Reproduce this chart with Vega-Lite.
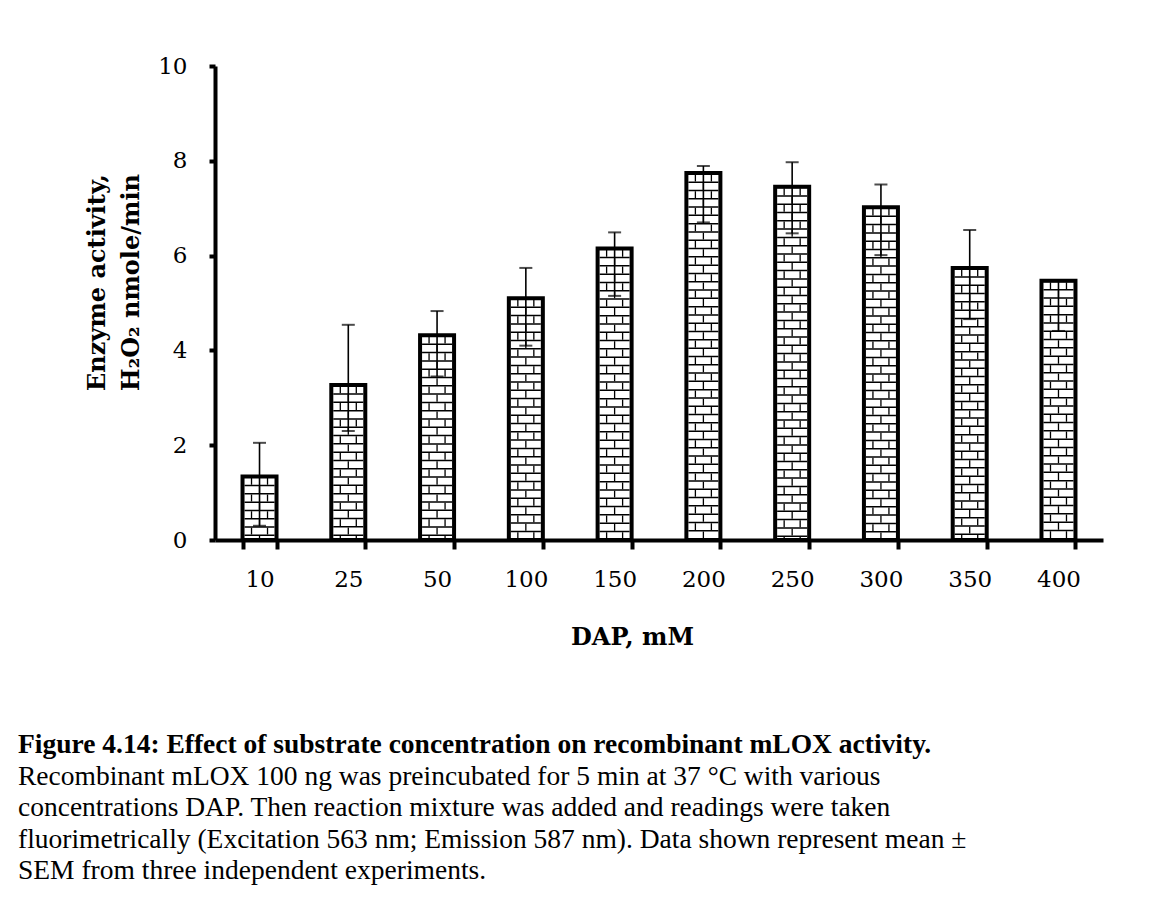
{
  "$schema": "https://vega.github.io/schema/vega-lite/v6.json",
  "width": 888,
  "height": 474,
  "autosize": {"type": "none"},
  "padding": {"left": 215, "top": 66, "right": 67, "bottom": 363},
  "background": "white",
  "data": {
    "values": [
      {"DAP": 10, "mean": 1.34, "lower": 0.30, "upper": 2.05},
      {"DAP": 25, "mean": 3.27, "lower": 2.30, "upper": 4.54},
      {"DAP": 50, "mean": 4.32, "lower": 3.45, "upper": 4.83},
      {"DAP": 100, "mean": 5.10, "lower": 4.10, "upper": 5.74},
      {"DAP": 150, "mean": 6.15, "lower": 5.15, "upper": 6.49},
      {"DAP": 200, "mean": 7.74, "lower": 6.70, "upper": 7.89},
      {"DAP": 250, "mean": 7.45, "lower": 6.47, "upper": 7.97},
      {"DAP": 300, "mean": 7.02, "lower": 6.01, "upper": 7.50},
      {"DAP": 350, "mean": 5.74, "lower": 4.66, "upper": 6.54},
      {"DAP": 400, "mean": 5.47, "lower": 4.41, "upper": 5.47}
    ]
  },
  "title": {
    "text": "Figure 4.14: Effect of substrate concentration on recombinant mLOX activity.",
    "subtitle": [
      "Recombinant mLOX 100 ng was preincubated for 5 min at 37 °C with various",
      "concentrations DAP. Then reaction mixture was added and readings were taken",
      "fluorimetrically (Excitation 563 nm; Emission 587 nm). Data shown represent mean ±",
      "SEM from three independent experiments."
    ],
    "orient": "bottom",
    "anchor": "start",
    "frame": "group",
    "dx": -197,
    "offset": 82,
    "font": "Liberation Serif",
    "fontSize": 27.5,
    "fontWeight": "bold",
    "color": "black",
    "subtitleFont": "Liberation Serif",
    "subtitleFontSize": 27.5,
    "subtitleColor": "black",
    "subtitleLineHeight": 31.5,
    "subtitlePadding": 4
  },
  "encoding": {
    "x": {
      "field": "DAP",
      "type": "ordinal",
      "scale": {"paddingInner": 0.617, "paddingOuter": 0.31},
      "axis": {
        "title": "DAP, mM",
        "titleFont": "DejaVu Serif",
        "titleFontSize": 24,
        "titleFontWeight": "bold",
        "titleColor": "black",
        "titlePadding": 34,
        "titleX": 417,
        "labelAngle": 0,
        "labelFont": "DejaVu Serif",
        "labelFontSize": 23,
        "labelColor": "black",
        "labelPadding": 19,
        "tickBand": "extent",
        "tickSize": 9,
        "tickWidth": 4,
        "tickColor": "black",
        "domainColor": "black",
        "domainWidth": 4,
        "grid": false
      }
    }
  },
  "layer": [
    {
      "mark": {"type": "rule", "strokeWidth": 30, "strokeDash": [1.5, 6.8], "strokeCap": "butt", "color": "black"},
      "encoding": {
        "y": {
          "field": "mean",
          "type": "quantitative",
          "scale": {"domain": [0, 10], "nice": false},
          "axis": {
            "title": ["Enzyme activity,", "H₂O₂ nmole/min"],
            "values": [0, 2, 4, 6, 8, 10]
          }
        },
        "y2": {"datum": 0}
      }
    },
    {
      "mark": {"type": "rule", "strokeWidth": 1.3, "strokeDash": [6.8, 9.8], "strokeDashOffset": 15.1, "strokeCap": "butt", "color": "black", "xOffset": -8},
      "encoding": {
        "y": {"field": "mean", "type": "quantitative"},
        "y2": {"datum": 0}
      }
    },
    {
      "mark": {"type": "rule", "strokeWidth": 1.3, "strokeDash": [6.8, 9.8], "strokeDashOffset": 15.1, "strokeCap": "butt", "color": "black", "xOffset": 8},
      "encoding": {
        "y": {"field": "mean", "type": "quantitative"},
        "y2": {"datum": 0}
      }
    },
    {
      "mark": {"type": "rule", "strokeWidth": 1.3, "strokeDash": [6.8, 9.8], "strokeDashOffset": 6.8, "strokeCap": "butt", "color": "black", "xOffset": 0},
      "encoding": {
        "y": {"field": "mean", "type": "quantitative"},
        "y2": {"datum": 0}
      }
    },
    {
      "mark": {"type": "bar", "fillOpacity": 0, "stroke": "black", "strokeWidth": 4},
      "encoding": {
        "y": {"field": "mean", "type": "quantitative"}
      }
    },
    {
      "mark": {"type": "rule", "strokeWidth": 1.6, "color": "black"},
      "encoding": {
        "y": {"field": "lower", "type": "quantitative"},
        "y2": {"field": "upper"}
      }
    },
    {
      "mark": {"type": "tick", "size": 13, "thickness": 2, "color": "black", "orient": "horizontal"},
      "encoding": {
        "y": {"field": "upper", "type": "quantitative"}
      }
    },
    {
      "mark": {"type": "tick", "size": 13, "thickness": 2, "color": "black", "orient": "horizontal"},
      "encoding": {
        "y": {"field": "lower", "type": "quantitative"}
      }
    }
  ],
  "config": {
    "view": {"stroke": null},
    "axisY": {
      "titleFont": "DejaVu Serif",
      "titleFontSize": 24,
      "titleFontWeight": "bold",
      "titleColor": "black",
      "titleLineHeight": 34,
      "titlePadding": 14,
      "titleY": 216,
      "labelFont": "DejaVu Serif",
      "labelFontSize": 23,
      "labelColor": "black",
      "labelPadding": 22,
      "tickSize": 6,
      "tickWidth": 4,
      "tickColor": "black",
      "domainColor": "black",
      "domainWidth": 4,
      "grid": false
    }
  }
}
